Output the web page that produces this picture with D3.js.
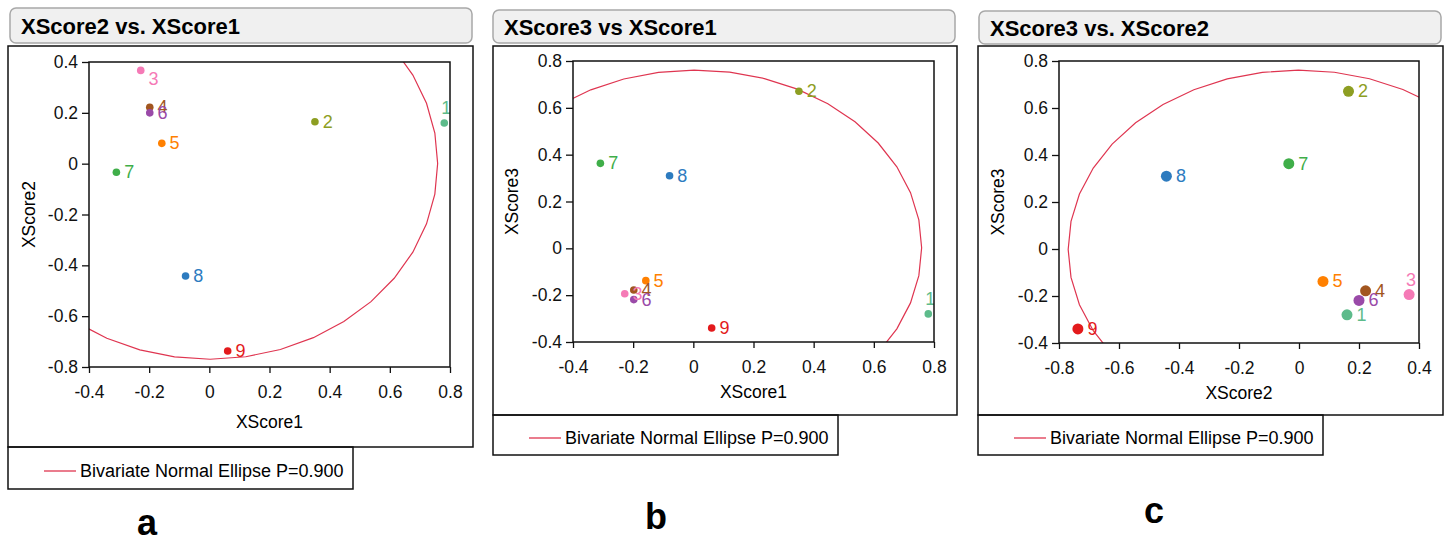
<!DOCTYPE html>
<html>
<head>
<meta charset="utf-8">
<script src="https://cdn.jsdelivr.net/npm/d3@7"></script>
<style>
  body { margin: 0; background: #fff; }
  text { font-family: "Liberation Sans", Arial, sans-serif; }
</style>
</head>
<body>
<script>
// score values for the 9 observations
var ids = ["1", "2", "3", "4", "5", "6", "7", "8", "9"];
var xscore1 = [0.781, 0.351, -0.228, -0.198, -0.158, -0.198, -0.309, -0.079, 0.061];
var xscore2 = [0.160, 0.165, 0.367, 0.222, 0.080, 0.200, -0.034, -0.442, -0.737];
var xscore3 = [-0.280, 0.671, -0.194, -0.178, -0.138, -0.219, 0.363, 0.310, -0.340];
var pointColors = ["#5dbb8b", "#8d9e22", "#f57ab6", "#a2561f", "#ff8000", "#9a4aa8", "#3fae49", "#2d7bbf", "#e31a1c"];

var ticksLow = [-0.8, -0.6, -0.4, -0.2, 0, 0.2, 0.4];
var ticksHigh = [-0.4, -0.2, 0, 0.2, 0.4, 0.6, 0.8];
var legendText = "Bivariate Normal Ellipse P=0.900";
var ellipseP = 0.9;

var panels = [
	{title: "XScore2 vs. XScore1", xv: xscore1, yv: xscore2, xlab: "XScore1", ylab: "XScore2",
	 xt: ticksHigh, yt: ticksLow, letter: "a", r: 3.8,
	 head: [10, 8, 462, 35], frame: [8, 46, 465, 401], plot: [89, 62, 361, 305],
	 legend: [8, 447, 345, 42], xlabY: 61, ylabX: 54, letterPos: [147, 535]},
	{title: "XScore3 vs XScore1", xv: xscore1, yv: xscore3, xlab: "XScore1", ylab: "XScore3",
	 xt: ticksHigh, yt: ticksHigh, letter: "b", r: 3.8,
	 head: [493, 10, 462, 33], frame: [493, 46, 464, 369], plot: [573, 61, 361, 281],
	 legend: [493, 415, 345, 40], xlabY: 56, ylabX: 55, letterPos: [656, 529]},
	{title: "XScore3 vs. XScore2", xv: xscore2, yv: xscore3, xlab: "XScore2", ylab: "XScore3",
	 xt: ticksLow, yt: ticksHigh, letter: "c", r: 5.5,
	 head: [979, 11, 462, 33], frame: [978, 46, 465, 369], plot: [1059, 61, 360, 282],
	 legend: [978, 415, 345, 40], xlabY: 56, ylabX: 55, letterPos: [1154, 523]}
];

var svg = d3.select("body")
			.append("svg")
			.attr("width", 1444)
			.attr("height", 538);

// bivariate normal ellipse from sample mean and covariance
function ellipsePoints(xs, ys) {
	var n = xs.length;
	var mx = d3.mean(xs), my = d3.mean(ys);
	var sxx = 0, syy = 0, sxy = 0;
	for (var i = 0; i < n; i++) {
		sxx += (xs[i] - mx) * (xs[i] - mx);
		syy += (ys[i] - my) * (ys[i] - my);
		sxy += (xs[i] - mx) * (ys[i] - my);
	}
	sxx /= n - 1; syy /= n - 1; sxy /= n - 1;
	var c = Math.sqrt(-2 * Math.log(1 - ellipseP));
	var l11 = Math.sqrt(sxx), l21 = sxy / l11, l22 = Math.sqrt(syy - l21 * l21);
	var pts = [];
	for (var k = 0; k <= 40; k++) {
		var t = k / 40 * 2 * Math.PI;
		pts.push([mx + c * l11 * Math.cos(t), my + c * (l21 * Math.cos(t) + l22 * Math.sin(t))]);
	}
	return pts;
}

panels.forEach(function(p, pi) {
	var px = p.plot[0], py = p.plot[1], pw = p.plot[2], ph = p.plot[3];

	// header bar
	svg.append("rect")
		.attr("x", p.head[0]).attr("y", p.head[1])
		.attr("width", p.head[2]).attr("height", p.head[3])
		.attr("rx", 6)
		.attr("fill", "#f0f0f0").attr("stroke", "#a8a8a8").attr("stroke-width", 1.5);
	svg.append("text")
		.attr("x", p.head[0] + 11).attr("y", p.head[1] + p.head[3] / 2 + 8)
		.attr("font-size", 22).attr("font-weight", "bold")
		.text(p.title);

	// outer frame and legend box
	svg.append("rect")
		.attr("x", p.frame[0]).attr("y", p.frame[1])
		.attr("width", p.frame[2]).attr("height", p.frame[3])
		.attr("fill", "none").attr("stroke", "#111").attr("stroke-width", 1.5);
	svg.append("rect")
		.attr("x", p.legend[0]).attr("y", p.legend[1])
		.attr("width", p.legend[2]).attr("height", p.legend[3])
		.attr("fill", "none").attr("stroke", "#111").attr("stroke-width", 1.5);
	var ly = p.legend[1] + p.legend[3] / 2 + 3;
	svg.append("line")
		.attr("x1", p.legend[0] + 36).attr("x2", p.legend[0] + 68)
		.attr("y1", ly).attr("y2", ly)
		.attr("stroke", "#df3550").attr("stroke-width", 1.3);
	svg.append("text")
		.attr("x", p.legend[0] + 72).attr("y", ly + 6)
		.attr("font-size", 18)
		.text(legendText);

	var x = d3.scaleLinear().domain([p.xt[0], p.xt[p.xt.length - 1]]).range([0, pw]);
	var y = d3.scaleLinear().domain([p.yt[0], p.yt[p.yt.length - 1]]).range([ph, 0]);

	var g = svg.append("g").attr("transform", "translate(" + px + "," + py + ")");

	var clipId = "clip" + pi;
	g.append("clipPath").attr("id", clipId)
		.append("rect").attr("width", pw).attr("height", ph);

	var xAxis = g.append("g")
		.attr("transform", "translate(0," + ph + ")")
		.call(d3.axisBottom(x).tickValues(p.xt).tickSize(6).tickPadding(13).tickFormat(function(d){ return String(d); }));
	var yAxis = g.append("g")
		.call(d3.axisLeft(y).tickValues(p.yt).tickSize(7).tickPadding(4).tickFormat(function(d){ return String(d); }));
	[xAxis, yAxis].forEach(function(a) {
		a.select(".domain").remove();
		a.selectAll("line").attr("stroke", "#111").attr("stroke-width", 1.3);
		a.selectAll("text").attr("font-size", 17.5).attr("fill", "#111")
			.attr("font-family", "Liberation Sans, Arial, sans-serif");
	});

	g.append("text")
		.attr("x", pw / 2).attr("y", ph + p.xlabY)
		.attr("text-anchor", "middle").attr("font-size", 17.5)
		.text(p.xlab);
	g.append("text")
		.attr("transform", "translate(" + (-p.ylabX) + "," + (ph / 2) + ") rotate(-90)")
		.attr("text-anchor", "middle").attr("font-size", 17.5)
		.text(p.ylab);

	var inner = g.append("g").attr("clip-path", "url(#" + clipId + ")");

	inner.append("path")
		.datum(ellipsePoints(p.xv, p.yv))
		.attr("d", d3.line().x(function(d){ return x(d[0]); }).y(function(d){ return y(d[1]); }))
		.attr("fill", "none").attr("stroke", "#df3550").attr("stroke-width", 1.2);

	var pts = ids.map(function(id, i) {
		return {id: id, cx: x(p.xv[i]), cy: y(p.yv[i]), color: pointColors[i]};
	});

	inner.selectAll("circle")
		.data(pts)
		.enter()
		.append("circle")
		.attr("cx", function(d){ return d.cx; })
		.attr("cy", function(d){ return d.cy; })
		.attr("r", p.r)
		.attr("fill", function(d){ return d.color; });

	// labels: right of the dot, above it when too close to the right edge
	inner.selectAll("text.lab")
		.data(pts)
		.enter()
		.append("text")
		.attr("class", "lab")
		.attr("font-size", 18)
		.attr("fill", function(d){ return d.color; })
		.attr("x", function(d){
			if (d.cx > pw - 16) return d.cx - 3;
			return d.cx + p.r + 4;
		})
		.attr("y", function(d){
			if (d.cx > pw - 16) return d.cy - 9;
			if (d.cy < 12) return d.cy + 15;
			return d.cy + 6;
		})
		.text(function(d){ return d.id; });

	g.append("rect")
		.attr("width", pw).attr("height", ph)
		.attr("fill", "none").attr("stroke", "#111").attr("stroke-width", 1.5);

	svg.append("text")
		.attr("x", p.letterPos[0]).attr("y", p.letterPos[1])
		.attr("text-anchor", "middle")
		.attr("font-family", "Open Sans, sans-serif")
		.attr("font-size", 36).attr("font-weight", "bold")
		.text(p.letter);
});
</script>
</body>
</html>
